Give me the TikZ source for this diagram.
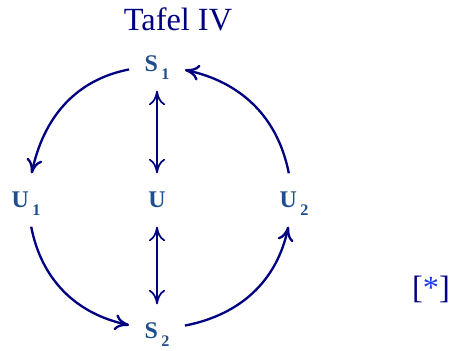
\documentclass[tikz,border=0pt]{standalone}
\usepackage{fontspec}
\setmainfont{Liberation Serif}
\usetikzlibrary{arrows.meta, positioning}
\definecolor{tfNavy}{HTML}{000080}
\definecolor{tfSteel}{HTML}{1F4E8C}
\definecolor{tfBlue}{HTML}{1A3CF0}
\newcommand{\sbx}[2]{#1\kern2.5pt\raisebox{-5.8pt}{\fontsize{11.5}{11.5}\selectfont #2}}
\tikzset{
  % coordinates are pixels of the scan, y pointing down
  every picture/.append style = {x=0.025cm, y=-0.025cm},
  state/.style    = {font=\fontsize{17}{17}\selectfont\bfseries, text=tfSteel,
                     inner xsep=0.38cm, inner ysep=0.48cm,
                     text height=0.36cm, text depth=0pt},
  ring/.style     = {tfNavy, line width=1.65pt, -{Computer Modern Rightarrow[length=3.6mm, width=4mm]}},
  pair/.style     = {tfNavy, line width=1.2pt,
                     {Computer Modern Rightarrow[length=3.6mm, width=4mm]}-{Computer Modern Rightarrow[length=3.6mm, width=4mm]}},
  heading/.style  = {font=\fontsize{23}{24}\selectfont, text=tfNavy},
}
\begin{document}
\begin{tikzpicture}
  \useasboundingbox (0,0) rectangle (451,350);
  % title and mark
  \node[heading, anchor=base] (title) at (178,30) {Tafel IV};
  \node[heading, anchor=base] (mark) at (431,298) {[\textcolor{tfBlue}{*}]};
  % states
  \node[state] (s1) at (157,64)  {\sbx{S}{1}};
  \node[state] (u1) at (26,200)  {\sbx{U}{1}};
  \node[state] (u)  at (157,200) {U};
  \node[state] (u2) at (294,200) {\sbx{U}{2}};
  \node[state] (s2) at (157,331) {\sbx{S}{2}};
  % outer cycle
  \draw[ring] (s1) to[out=191, in=78]  (u1);
  \draw[ring] (u1) to[out=281, in=168] (s2);
  \draw[ring] (s2) to[out=11,  in=258] (u2);
  \draw[ring] (u2) to[out=101, in=348] (s1);
  % middle links
  \draw[pair] (s1) -- (u);
  \draw[pair] (u) -- (s2);
\end{tikzpicture}
\end{document}
